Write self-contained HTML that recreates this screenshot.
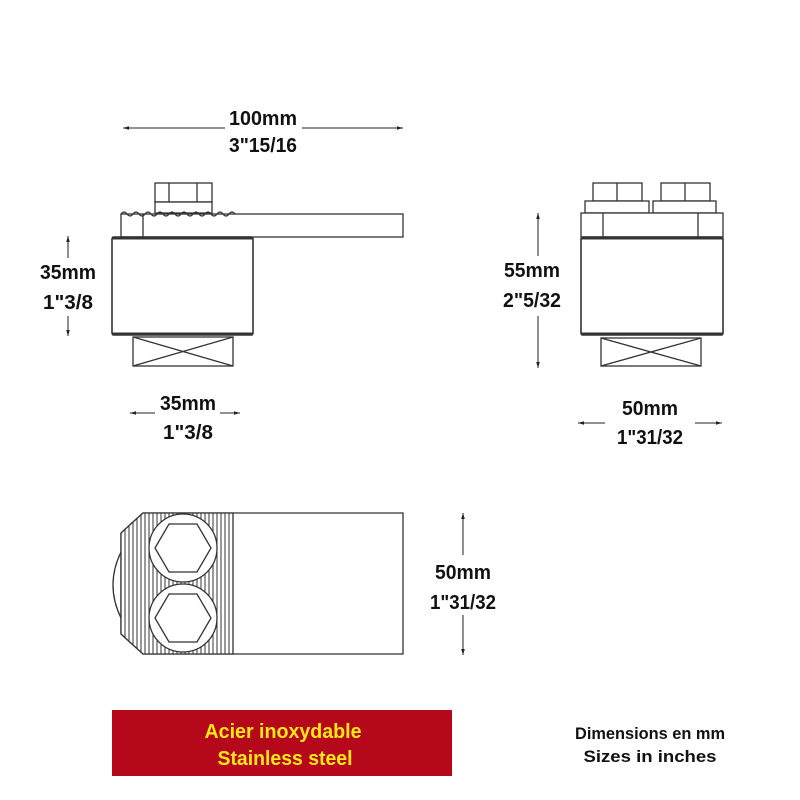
<!DOCTYPE html>
<html><head><style>
body{margin:0;background:#fff;width:800px;height:800px;overflow:hidden}
svg{display:block}
text{font-family:"Liberation Sans",Arial,sans-serif;font-weight:bold;font-size:20px;text-anchor:middle;fill:#111}
</style></head><body>
<svg width="800" height="800" viewBox="0 0 800 800" xmlns="http://www.w3.org/2000/svg">
<defs>
<marker id="a" viewBox="0 0 10 10" refX="10" refY="5" markerWidth="6" markerHeight="6" orient="auto-start-reverse"><path d="M0,2 L10,5 L0,8z" fill="#222"/></marker>
<pattern id="st" width="4" height="10" patternUnits="userSpaceOnUse"><rect width="4" height="10" fill="#fff"/><line x1="1" y1="0" x2="1" y2="10" stroke="#333" stroke-width="1"/></pattern>
</defs>
<g stroke="#333" stroke-width="1.3" fill="#fff">
<rect x="155" y="183" width="57" height="19"/>
<line x1="169" y1="183" x2="169" y2="202"/><line x1="197" y1="183" x2="197" y2="202"/>
<rect x="155" y="202" width="57" height="11"/>
<rect x="121" y="214" width="282" height="23"/>
<line x1="143" y1="214" x2="143" y2="237"/>
<path d="M121,214 q3,-4 6,0 t6,0 t6,0 t6,0 t6,0 t6,0 t6,0 t6,0 t6,0 t6,0 t6,0 t6,0 t6,0 t6,0 t6,0 t6,0 t6,0 t6,0 t6,0" fill="none"/>
<rect x="112" y="237" width="141" height="98" rx="2" stroke-width="1.6"/>
<line x1="112" y1="238" x2="253" y2="238" stroke-width="3"/>
<line x1="112" y1="334" x2="253" y2="334" stroke-width="3"/>
<rect x="133" y="337" width="100" height="29"/>
<path d="M133,337 L233,366 M233,337 L133,366" fill="none"/>
<rect x="593" y="183" width="49" height="18"/><line x1="617" y1="183" x2="617" y2="201"/>
<rect x="661" y="183" width="49" height="18"/><line x1="685" y1="183" x2="685" y2="201"/>
<rect x="585" y="201" width="64" height="12"/>
<rect x="653" y="201" width="63" height="12"/>
<rect x="581" y="213" width="142" height="24"/>
<line x1="603" y1="213" x2="603" y2="237"/><line x1="698" y1="213" x2="698" y2="237"/>
<rect x="581" y="237" width="142" height="98" rx="2" stroke-width="1.6"/>
<line x1="581" y1="238" x2="723" y2="238" stroke-width="3"/>
<line x1="581" y1="334" x2="723" y2="334" stroke-width="3"/>
<rect x="601" y="338" width="100" height="28"/>
<path d="M601,338 L701,366 M701,338 L601,366" fill="none"/>
<path d="M121,552 Q105,585 121,618" fill="none"/>
<path d="M143,513 L403,513 L403,654 L143,654 L121,634 L121,533 Z"/>
<path d="M143,513 L233,513 L233,654 L143,654 L121,634 L121,533 Z" fill="url(#st)"/>
<circle cx="183" cy="548" r="34"/>
<circle cx="183" cy="618" r="34"/>
<polygon points="155,548 169,524 197,524 211,548 197,572 169,572"/>
<polygon points="155,618 169,594 197,594 211,618 197,642 169,642"/>
</g>
<g stroke="#222" stroke-width="1" fill="none">
<line x1="123" y1="128" x2="225" y2="128" marker-start="url(#a)"/>
<line x1="302" y1="128" x2="403" y2="128" marker-end="url(#a)"/>
<line x1="68" y1="236" x2="68" y2="258" marker-start="url(#a)"/>
<line x1="68" y1="316" x2="68" y2="336" marker-end="url(#a)"/>
<line x1="130" y1="413" x2="155" y2="413" marker-start="url(#a)"/>
<line x1="220" y1="413" x2="240" y2="413" marker-end="url(#a)"/>
<line x1="538" y1="213" x2="538" y2="256" marker-start="url(#a)"/>
<line x1="538" y1="316" x2="538" y2="368" marker-end="url(#a)"/>
<line x1="578" y1="423" x2="605" y2="423" marker-start="url(#a)"/>
<line x1="695" y1="423" x2="722" y2="423" marker-end="url(#a)"/>
<line x1="463" y1="513" x2="463" y2="555" marker-start="url(#a)"/>
<line x1="463" y1="615" x2="463" y2="655" marker-end="url(#a)"/>
</g>
<text x="263" y="125" textLength="68" lengthAdjust="spacingAndGlyphs">100mm</text>
<text x="263" y="152" textLength="68" lengthAdjust="spacingAndGlyphs">3"15/16</text>
<text x="68" y="279" textLength="56" lengthAdjust="spacingAndGlyphs">35mm</text>
<text x="68" y="309" textLength="50" lengthAdjust="spacingAndGlyphs">1"3/8</text>
<text x="188" y="410" textLength="56" lengthAdjust="spacingAndGlyphs">35mm</text>
<text x="188" y="439" textLength="50" lengthAdjust="spacingAndGlyphs">1"3/8</text>
<text x="532" y="277" textLength="56" lengthAdjust="spacingAndGlyphs">55mm</text>
<text x="532" y="307" textLength="58" lengthAdjust="spacingAndGlyphs">2"5/32</text>
<text x="650" y="415" textLength="56" lengthAdjust="spacingAndGlyphs">50mm</text>
<text x="650" y="444" textLength="66" lengthAdjust="spacingAndGlyphs">1"31/32</text>
<text x="463" y="579" textLength="56" lengthAdjust="spacingAndGlyphs">50mm</text>
<text x="463" y="609" textLength="66" lengthAdjust="spacingAndGlyphs">1"31/32</text>
<rect x="112" y="710" width="340" height="66" fill="#b5081a"/>
<text x="283" y="738" style="fill:#ffe81a" textLength="157" lengthAdjust="spacingAndGlyphs">Acier inoxydable</text>
<text x="285" y="765" style="fill:#ffe81a" textLength="135" lengthAdjust="spacingAndGlyphs">Stainless steel</text>
<text x="650" y="739" style="font-size:17px" textLength="150" lengthAdjust="spacingAndGlyphs">Dimensions en mm</text>
<text x="650" y="762" style="font-size:17px" textLength="133" lengthAdjust="spacingAndGlyphs">Sizes in inches</text>
</svg>
</body></html>
